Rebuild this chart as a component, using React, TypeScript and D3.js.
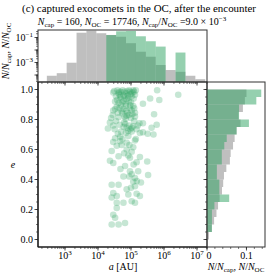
import React from "react";
import * as d3 from "d3";

// ---------- data ----------
// top histogram: bins in log10(a / AU)
const aBinEdgesLog10 = [2.45, 2.75, 3.05, 3.35, 3.65, 3.95, 4.25, 4.55, 4.85, 5.15, 5.45, 5.75, 6.05, 6.35, 6.65, 6.95, 7.25];
const ocFracA = [8.7e-5, 1.4e-4, 9.6e-4, 0.24, 0.35, 0.22, 0.16, 0.115, 0.035, 0.0073, 0.0029, 6.3e-4, 2.5e-4, 1.8e-4, 8.7e-5, 4.6e-5];
const capCountA = [0, 0, 0, 0, 0, 0, 25, 50, 53, 20, 8, 3, 0, 1, 0, 0];

// right histogram: bins in e (bottom to top)
const eBinEdges = [0, 0.05, 0.1, 0.15, 0.2, 0.25, 0.3, 0.35, 0.4, 0.45, 0.5, 0.55, 0.6, 0.65, 0.7, 0.75, 0.8, 0.85, 0.9, 0.95, 1.0];
const ocFracE = [0.005, 0.012, 0.018, 0.024, 0.028, 0.032, 0.038, 0.041, 0.043, 0.049, 0.058, 0.06, 0.066, 0.07, 0.075, 0.085, 0.08, 0.091, 0.096, 0.1];
const capCountE = [0, 2, 2, 2, 3, 9, 5, 5, 4, 4, 6, 6, 7, 8, 12, 17, 13, 13, 20, 22];

const nCap = 160;
const nOC = 17746;

// captured exocomets: [a (AU), e]
const capturedAE: [number, number][] = [
  [2.9e4, 0.98], [4.2e4, 0.975], [4.9e4, 0.985], [5.6e4, 0.995], [7.0e4, 0.975], [9.3e4, 0.985], [1.17e5, 0.995], [1.4e5, 0.995], [1.32e5, 0.965], [6.2e5, 0.995], [2.7e6, 0.965],
  [3.5e4, 0.955], [4.7e4, 0.95], [6.6e4, 0.955], [8.3e4, 0.945], [1.05e5, 0.955], [3.8e5, 0.94], [7.2e5, 0.93],
  [3.3e4, 0.92], [4.2e4, 0.91], [5.9e4, 0.925], [7.4e4, 0.935], [1.0e5, 0.915], [2.3e5, 0.905],
  [3.7e4, 0.885], [4.9e4, 0.895], [7.0e4, 0.89], [9.3e4, 0.875], [1.17e5, 0.89],
  [2.9e4, 0.86], [5.2e4, 0.855], [5.9e4, 0.87], [7.8e4, 0.845], [1.05e5, 0.86], [1.32e5, 0.845],
  [2.8e4, 0.83], [4.2e4, 0.815], [7.4e4, 0.825], [1.0e5, 0.81], [1.32e5, 0.82], [5.0e5, 0.835],
  [2.3e4, 0.78], [3.5e4, 0.79], [6.2e4, 0.78], [1.8e5, 0.775], [2.3e5, 0.775], [6.0e5, 0.765],
  [2.0e4, 0.74], [2.9e4, 0.76], [4.5e4, 0.765], [7.4e4, 0.745], [1.05e5, 0.745], [1.17e5, 0.755], [1.48e5, 0.735], [4.2e5, 0.745],
  [7.0e4, 0.71], [1.05e5, 0.72], [1.86e5, 0.71], [2.3e5, 0.715], [3.2e5, 0.705], [4.8e5, 0.7],
  [3.3e4, 0.675], [4.7e4, 0.685], [8.3e4, 0.69], [1.4e5, 0.67],
  [2.9e4, 0.65], [4.7e4, 0.655], [7.4e4, 0.645], [1.32e5, 0.66],
  [3.7e4, 0.625], [5.2e4, 0.63], [1.17e5, 0.615],
  [2.6e4, 0.59], [7.4e4, 0.6], [1.05e5, 0.585],
  [4.2e4, 0.555], [8.3e4, 0.56], [9.3e4, 0.545], [1.86e5, 0.55],
  [2.3e4, 0.525], [2.9e4, 0.51], [1.48e5, 0.515], [3.1e5, 0.52],
  [6.6e4, 0.49],
  [5.9e4, 0.42], [8.8e4, 0.42], [3.3e5, 0.43],
  [1.17e5, 0.385], [2.0e5, 0.38],
  [9.3e4, 0.455], [1.65e5, 0.455], [1.05e5, 0.435], [1.32e5, 0.41], [2.6e4, 0.365], [4.2e4, 0.365], [1.5e5, 0.39],
  [7.4e4, 0.335], [1.32e5, 0.355], [2.9e4, 0.31], [3.7e4, 0.29], [2.6e4, 0.28], [8.3e4, 0.3], [1.48e5, 0.305], [1.86e5, 0.29],
  [3.7e4, 0.245], [5.9e4, 0.245], [1.05e5, 0.255], [1.32e5, 0.245], [3.7e4, 0.21], [2.9e4, 0.165], [3.3e4, 0.145],
  [2.6e4, 0.1], [4.2e4, 0.1], [6.6e4, 0.11],
  [3.1e4, 0.99], [3.9e4, 0.995], [4.5e4, 0.965], [5.0e4, 0.94], [6.0e4, 0.96], [6.3e4, 0.985], [7.6e4, 0.99], [8.0e4, 0.96], [8.8e4, 0.995],
  [9.8e4, 0.97], [1.1e5, 0.98], [1.24e5, 0.985], [5.5e4, 0.915], [6.8e4, 0.905], [8.6e4, 0.92], [3.8e4, 0.93], [1.2e5, 0.94], [4.4e4, 0.985],
  [3.3e4, 0.87], [4.5e4, 0.875], [5.5e4, 0.84], [6.4e4, 0.82], [7.2e4, 0.86], [8.6e4, 0.83], [9.5e4, 0.895], [1.1e5, 0.835], [4.0e4, 0.845],
  [6.9e4, 0.805], [1.25e5, 0.875], [2.5e4, 0.81],
  [3.2e4, 0.735], [5.0e4, 0.72], [6.0e4, 0.75], [8.9e4, 0.76], [9.6e4, 0.735], [1.25e5, 0.79], [4.0e4, 0.705], [6.7e4, 0.77], [1.6e5, 0.76], [8.2e4, 0.725],
  [5.5e4, 0.67], [9.0e4, 0.63], [6.2e4, 0.575], [1.2e5, 0.5], [4.8e4, 0.47], [1.0e5, 0.345],
];

const aTickExps = [3, 4, 5, 6, 7];
const eTicks = [0, 0.2, 0.4, 0.6, 0.8, 1.0];
const topYTickExps = [-1, -3];
const rightXTicks = [0, 0.1];

const FONT = "Liberation Serif";
const GRAY = "#808080";
const GREEN = "#2ca25f";

export default function App() {
  const L = 38, R = 207, T = 82, B = 247;
  const HT = 30;
  const RR = 265;

  const x = d3.scaleLog().domain([Math.pow(10, 2.182), Math.pow(10, 7.303)]).range([L, R]);
  const y = d3.scaleLinear().domain([-0.05, 1.05]).range([B, T]);
  const yTop = d3.scaleLog().domain([Math.pow(10, -4.56), Math.pow(10, -0.4)]).range([T, HT]);
  const xR = d3.scaleLinear().domain([0, 0.147]).range([R, RR]);

  const [aLo, aHi] = x.domain();
  const aMinor: number[] = [];
  for (let d = 2; d <= 7; d++) for (let m = 1; m <= 9; m++) {
    const v = m * Math.pow(10, d);
    if (v >= aLo && v <= aHi) aMinor.push(v);
  }
  const [tLo, tHi] = yTop.domain();
  const topMinor: number[] = [];
  for (let d = -5; d <= -1; d++) for (let m = 1; m <= 9; m++) {
    const v = m * Math.pow(10, d);
    if (v >= tLo && v <= tHi) topMinor.push(v);
  }
  const eMinor = d3.range(0, 1.0001, 0.05);
  const rMinor = d3.range(0, 0.1401, 0.02);

  const tickColor = "#222";
  const fs = 10;
  const sub = 7;

  const NcapLabel = (
    <>
      <tspan fontStyle="italic">N</tspan>/<tspan fontStyle="italic">N</tspan>
      <tspan fontSize={sub} dy={2}>cap</tspan>
      <tspan dy={-2}>, </tspan>
      <tspan fontStyle="italic">N</tspan>/<tspan fontStyle="italic">N</tspan>
      <tspan fontSize={sub} dy={2}>OC</tspan>
    </>
  );

  return (
    <svg width={274} height={274} style={{ position: "absolute", left: 0, top: 0, background: "#fff" }} fontFamily={FONT}>
      <rect x={0} y={0} width={274} height={274} fill="#fff" />
      {/* title */}
      <text x={139} y={12} textAnchor="middle" fontSize={fs} textLength={234} lengthAdjust="spacingAndGlyphs">(c) captured exocomets in the OC,  after the encounter</text>
      <text x={132} y={24.5} textAnchor="middle" fontSize={fs}>
        <tspan fontStyle="italic">N</tspan>
        <tspan fontSize={sub} dy={2}>cap</tspan>
        <tspan dy={-2}> = {nCap}, </tspan>
        <tspan fontStyle="italic">N</tspan>
        <tspan fontSize={sub} dy={2}>OC</tspan>
        <tspan dy={-2}> = {nOC}, </tspan>
        <tspan fontStyle="italic">N</tspan>
        <tspan fontSize={sub} dy={2}>cap</tspan>
        <tspan dy={-2}>/</tspan>
        <tspan fontStyle="italic">N</tspan>
        <tspan fontSize={sub} dy={2}>OC</tspan>
        <tspan dy={-2}> ={d3.format(".1f")((nCap / nOC) * 1000)} × 10</tspan>
        <tspan fontSize={sub} dy={-4}>−3</tspan>
      </text>

      {/* ---- top histogram ---- */}
      <g>
        {ocFracA.map((v, i) => v > 0 && (
          <rect key={"ga" + i} x={x(Math.pow(10, aBinEdgesLog10[i]))} width={x(Math.pow(10, aBinEdgesLog10[i + 1])) - x(Math.pow(10, aBinEdgesLog10[i]))}
            y={yTop(v)} height={T - yTop(v)} fill={GRAY} fillOpacity={0.5} />
        ))}
        {capCountA.map((c, i) => c > 0 && (
          <rect key={"ca" + i} x={x(Math.pow(10, aBinEdgesLog10[i]))} width={x(Math.pow(10, aBinEdgesLog10[i + 1])) - x(Math.pow(10, aBinEdgesLog10[i]))}
            y={yTop(c / nCap)} height={T - yTop(c / nCap)} fill={GREEN} fillOpacity={0.5} />
        ))}
        <rect x={L} y={HT} width={R - L} height={T - HT} fill="none" stroke="#333" strokeWidth={1} />
        {topMinor.map((v, i) => (
          <line key={"tm" + i} x1={L} x2={L - 2} y1={yTop(v)} y2={yTop(v)} stroke={tickColor} strokeWidth={0.6} />
        ))}
        {[-4, -3, -2, -1].map((p) => (
          <line key={"tM" + p} x1={L} x2={L - 3.5} y1={yTop(Math.pow(10, p))} y2={yTop(Math.pow(10, p))} stroke={tickColor} strokeWidth={0.8} />
        ))}
        {topYTickExps.map((p) => (
          <text key={"tl" + p} x={L - 5} y={yTop(Math.pow(10, p)) + 3.5} textAnchor="end" fontSize={fs}>
            10<tspan fontSize={sub} dy={-4.5}>−{Math.abs(p)}</tspan>
          </text>
        ))}
        {aMinor.map((v, i) => (
          <line key={"am" + i} x1={x(v)} x2={x(v)} y1={T} y2={T + 2} stroke={tickColor} strokeWidth={0.6} />
        ))}
        {aTickExps.map((p) => (
          <line key={"aM" + p} x1={x(Math.pow(10, p))} x2={x(Math.pow(10, p))} y1={T} y2={T + 3.5} stroke={tickColor} strokeWidth={0.8} />
        ))}
        <text transform={`translate(9,${(HT + T) / 2 - 5}) rotate(-90)`} textAnchor="middle" fontSize={fs}>{NcapLabel}</text>
      </g>

      {/* ---- scatter ---- */}
      <g>
        {capturedAE.map(([a, e], i) => (
          <circle key={"p" + i} cx={x(a)} cy={y(e)} r={3.3} fill={GREEN} fillOpacity={0.27} />
        ))}
        <rect x={L} y={T} width={R - L} height={B - T} fill="none" stroke="#333" strokeWidth={1} />
        <line x1={L} x2={L} y1={T} y2={B} stroke="#111" strokeWidth={1.2} />
        <line x1={L} x2={R} y1={B} y2={B} stroke="#111" strokeWidth={1.2} />
        {eMinor.map((v, i) => (
          <line key={"em" + i} x1={L} x2={L - 2} y1={y(v)} y2={y(v)} stroke={tickColor} strokeWidth={0.6} />
        ))}
        {eTicks.map((v) => (
          <g key={"eM" + v}>
            <line x1={L} x2={L - 3.5} y1={y(v)} y2={y(v)} stroke={tickColor} strokeWidth={0.8} />
            <text x={L - 5} y={y(v) + 3.5} textAnchor="end" fontSize={fs}>{d3.format(".1f")(v)}</text>
          </g>
        ))}
        {aMinor.map((v, i) => (
          <line key={"bm" + i} x1={x(v)} x2={x(v)} y1={B} y2={B + 2} stroke={tickColor} strokeWidth={0.6} />
        ))}
        {aTickExps.map((p) => (
          <g key={"bM" + p}>
            <line x1={x(Math.pow(10, p))} x2={x(Math.pow(10, p))} y1={B} y2={B + 3.5} stroke={tickColor} strokeWidth={0.8} />
            <text x={x(Math.pow(10, p))} y={B + 12} textAnchor="middle" fontSize={fs}>
              10<tspan fontSize={sub} dy={-4.5}>{p}</tspan>
            </text>
          </g>
        ))}
        <text x={13} y={(T + B) / 2 + 3} textAnchor="middle" fontSize={fs} fontStyle="italic">e</text>
        <text x={123} y={270} textAnchor="middle" fontSize={fs}>
          <tspan fontStyle="italic">a</tspan> [AU]
        </text>
      </g>

      {/* ---- right histogram ---- */}
      <g>
        {ocFracE.map((v, i) => (
          <rect key={"ge" + i} x={R} y={y(eBinEdges[i + 1])} height={y(eBinEdges[i]) - y(eBinEdges[i + 1])}
            width={xR(v) - R} fill={GRAY} fillOpacity={0.5} />
        ))}
        {capCountE.map((c, i) => c > 0 && (
          <rect key={"ce" + i} x={R} y={y(eBinEdges[i + 1])} height={y(eBinEdges[i]) - y(eBinEdges[i + 1])}
            width={xR(c / nCap) - R} fill={GREEN} fillOpacity={0.5} />
        ))}
        <rect x={R} y={T} width={RR - R} height={B - T} fill="none" stroke="#333" strokeWidth={1} />
        {eMinor.map((v, i) => (
          <line key={"rm" + i} x1={R} x2={R - 2} y1={y(v)} y2={y(v)} stroke={tickColor} strokeWidth={0.6} />
        ))}
        {eTicks.map((v) => (
          <line key={"rM" + v} x1={R} x2={R - 3.5} y1={y(v)} y2={y(v)} stroke={tickColor} strokeWidth={0.8} />
        ))}
        {rMinor.map((v, i) => (
          <line key={"rxm" + i} x1={xR(v)} x2={xR(v)} y1={B} y2={B + 2} stroke={tickColor} strokeWidth={0.6} />
        ))}
        {rightXTicks.map((v) => (
          <g key={"rxM" + v}>
            <line x1={xR(v)} x2={xR(v)} y1={B} y2={B + 3.5} stroke={tickColor} strokeWidth={0.8} />
            <text x={xR(v) + (v === 0 ? 2 : 0)} y={B + 12} textAnchor="middle" fontSize={fs}>{v === 0 ? "0" : d3.format(".1f")(v)}</text>
          </g>
        ))}
        <text x={236} y={270} textAnchor="middle" fontSize={fs}>{NcapLabel}</text>
      </g>
    </svg>
  );
}
